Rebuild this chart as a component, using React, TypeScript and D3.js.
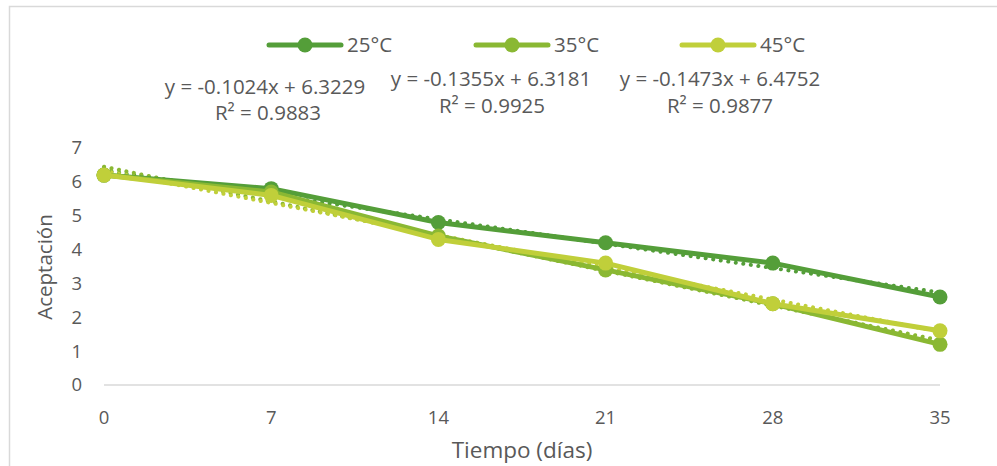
import React from "react";
import * as d3 from "d3";

const days = [0, 7, 14, 21, 28, 35];
const yTicks = [0, 1, 2, 3, 4, 5, 6, 7];
const s25 = [6.2, 5.8, 4.8, 4.2, 3.6, 2.6];
const s35 = [6.2, 5.7, 4.4, 3.4, 2.4, 1.2];
const s45 = [6.2, 5.6, 4.3, 3.6, 2.4, 1.6];
const seriesNames = ["25°C", "35°C", "45°C"];
const seriesColors = ["#549E39", "#8AB833", "#C0CF3A"];
const eqLabels = [
  ["y = -0.1024x + 6.3229", "R² = 0.9883"],
  ["y = -0.1355x + 6.3181", "R² = 0.9925"],
  ["y = -0.1473x + 6.4752", "R² = 0.9877"],
];

const W = 997;
const H = 466;
const FONT = "'Open Sans', 'Noto Sans', sans-serif";
const TXT = "#595959";

function linreg(xs: number[], ys: number[]) {
  const mx = d3.mean(xs)!;
  const my = d3.mean(ys)!;
  const sxy = d3.sum(xs, (x, i) => (x - mx) * (ys[i] - my));
  const sxx = d3.sum(xs, (x) => (x - mx) ** 2);
  const b = sxy / sxx;
  return { b, a: my - b * mx };
}

export default function App() {
  const x = d3.scaleLinear().domain([0, 35]).range([104, 940]);
  const y = d3.scaleLinear().domain([0, 7]).range([385, 148]);
  const all = [s25, s35, s45];
  const line = d3
    .line<number>()
    .x((_, i) => x(days[i]))
    .y((d) => y(d));

  const legendX = [269, 476, 682];
  const eqPos = [
    [265, 87, 268, 113],
    [491, 79, 492, 106],
    [720, 79, 720, 106],
  ];

  return (
    <svg
      width={W}
      height={H}
      style={{ position: "absolute", left: 0, top: 0, background: "#fff" }}
      fontFamily={FONT}
    >
      <rect x={9.5} y={6.5} width={W + 10} height={H + 10} fill="#fff" stroke="#d9d9d9" strokeWidth={1.5} />
      <line x1={x(0)} x2={x(35)} y1={y(0)} y2={y(0)} stroke="#d9d9d9" strokeWidth={1.5} />
      {yTicks.map((t) => (
        <text key={t} x={82} y={y(t)} dy="0.35em" textAnchor="end" fontSize={18.5} fill={TXT}>
          {t}
        </text>
      ))}
      {days.map((d) => (
        <text key={d} x={x(d)} y={418} dy="0.35em" textAnchor="middle" fontSize={18.5} fill={TXT}>
          {d}
        </text>
      ))}
      <text
        transform={`translate(45,267) rotate(-90)`}
        textAnchor="middle"
        dy="0.35em"
        fontSize={20.5}
        fill={TXT}
      >
        Aceptación
      </text>
      <text x={522} y={450} dy="0.35em" textAnchor="middle" fontSize={22.5} fill={TXT}>
        Tiempo (días)
      </text>
      {all.map((s, k) => {
        const { a, b } = linreg(days, s);
        return (
          <line
            key={"t" + k}
            x1={x(0)}
            y1={y(a)}
            x2={x(35)}
            y2={y(a + b * 35)}
            stroke={seriesColors[k]}
            strokeWidth={4}
            strokeLinecap="round"
            strokeDasharray="0.1 7.5"
          />
        );
      })}
      {all.map((s, k) => (
        <g key={"s" + k}>
          <path d={line(s)!} fill="none" stroke={seriesColors[k]} strokeWidth={5} strokeLinejoin="round" strokeLinecap="round" />
          {s.map((v, i) => (
            <circle key={i} cx={x(days[i])} cy={y(v)} r={7.5} fill={seriesColors[k]} />
          ))}
        </g>
      ))}
      {seriesNames.map((n, k) => (
        <g key={n} transform={`translate(${legendX[k]},45)`}>
          <line x1={0} x2={72} y1={0} y2={0} stroke={seriesColors[k]} strokeWidth={5} strokeLinecap="round" />
          <circle cx={36} cy={0} r={7.5} fill={seriesColors[k]} />
          <text x={78} y={0} dy="0.35em" fontSize={20.5} fill={TXT}>
            {n}
          </text>
        </g>
      ))}
      {eqLabels.map((e, k) => (
        <g key={"e" + k}>
          <text x={eqPos[k][0]} y={eqPos[k][1]} dy="0.35em" textAnchor="middle" fontSize={20.5} fill={TXT}>
            {e[0]}
          </text>
          <text x={eqPos[k][2]} y={eqPos[k][3]} dy="0.35em" textAnchor="middle" fontSize={20.5} fill={TXT}>
            {e[1]}
          </text>
        </g>
      ))}
    </svg>
  );
}
